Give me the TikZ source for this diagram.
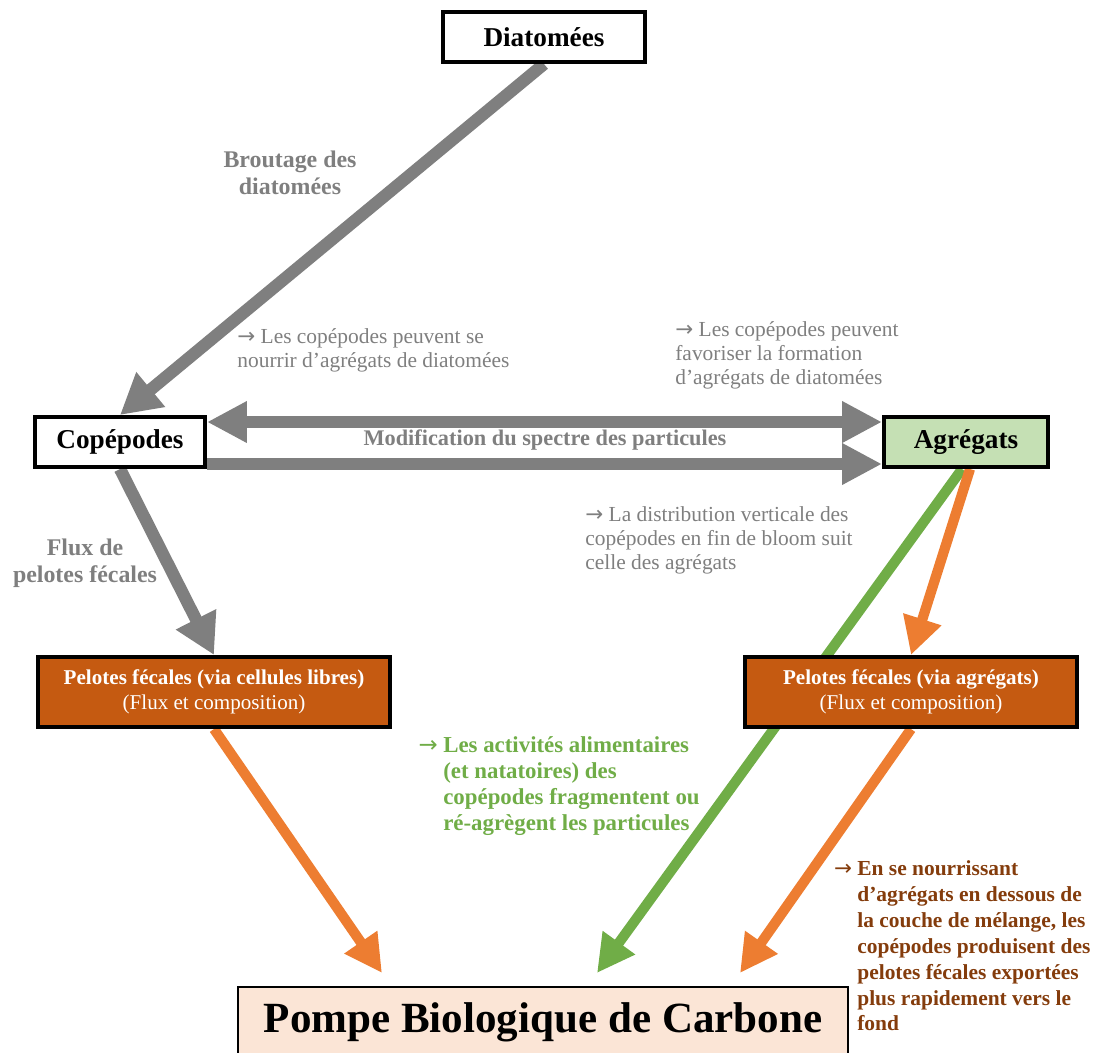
\documentclass[tikz,border=0pt]{standalone}
\usepackage{fontspec}
\setmainfont{Liberation Serif}
\newfontfamily\arrowfont{DejaVu Sans}
\usetikzlibrary{arrows.meta,positioning,backgrounds}
\definecolor{arrowgray}{RGB}{127,127,127}
\definecolor{agrgreen}{RGB}{197,224,180}
\definecolor{arrowgreen}{RGB}{112,173,71}
\definecolor{arroworange}{RGB}{237,125,49}
\definecolor{pelbrown}{RGB}{197,90,17}
\definecolor{pumpfill}{RGB}{251,229,214}
\definecolor{notebrown}{RGB}{132,60,12}
\newcommand{\notearrow}{{\arrowfont\mdseries →}}

\begin{document}
\begin{tikzpicture}[x=0.02cm,y=-0.02cm,box/.style={draw=black,line width=2.3pt,fill=white,minimum height=1cm,inner sep=2pt,font=\fontsize{15.5}{18}\selectfont\bfseries},pel/.style={box,fill=pelbrown,text=white,minimum height=1.4cm,align=center,font=\fontsize{12}{14.2}\selectfont},pump/.style={draw=black,line width=1.1pt,fill=pumpfill,minimum width=12.2cm,minimum height=1.4cm,font=\fontsize{24.5}{28}\selectfont\bfseries},lbl/.style={text=arrowgray,align=center,font=\fontsize{13.6}{15.3}\selectfont\bfseries},note/.style={text=arrowgray,align=left,anchor=west,inner sep=0pt,font=\fontsize{12.2}{13.6}\selectfont},bnote/.style={note,font=\fontsize{13}{14.9}\selectfont\bfseries},grarr/.style={draw=arrowgray,line width=7pt,-{Triangle[length=0.8cm,width=0.85cm]}},garr/.style={draw=arrowgreen,line width=5.8pt,-{Triangle[length=0.75cm,width=0.75cm]}},oarr/.style={draw=arroworange,line width=5.8pt,-{Triangle[length=0.75cm,width=0.75cm]}}]
\useasboundingbox(0,0) rectangle (1099,1052);
\node[box,minimum width=4.04cm](diat) at (544,37){Diatomées};
\node[box,minimum width=3.4cm](cope) at (120,442){Copépodes};
\node[box,fill=agrgreen,minimum width=3.28cm](agr) at (966,442){Agrégats};
\node[pel,minimum width=7.04cm](pelcell) at (214,692){\textbf{Pelotes fécales (via cellules libres)}\\(Flux et composition)};
\node[pel,minimum width=6.66cm](pelagr) at (911,692){\textbf{Pelotes fécales (via agrégats)}\\(Flux et composition)};
\node[pump](pump) at (543,1022){Pompe Biologique de Carbone};
\coordinate (tipleft) at (382,973);
\coordinate (tipgreen) at (597,973);
\coordinate (tipright) at (740,973);
\begin{pgfonlayer}{background}
\draw[grarr](diat.south)--(cope.north);
\draw[grarr,{Triangle[length=0.8cm,width=0.78cm]}-{Triangle[length=0.8cm,width=0.78cm]}]([yshift=0.4cm]cope.east)--([yshift=0.4cm]agr.west);
\draw[grarr,-{Triangle[length=0.8cm,width=0.78cm]}]([yshift=-0.44cm]cope.east)--([yshift=-0.44cm]agr.west);
\draw[grarr](cope.south)--(pelcell.north);
\draw[garr]([xshift=-0.08cm]agr.south)--(tipgreen);
\draw[oarr]([xshift=0.08cm]agr.south)--(pelagr.north);
\draw[oarr](pelcell.south)--(tipleft);
\draw[oarr](pelagr.south)--(tipright);
\end{pgfonlayer}
\node[lbl](brout) at (290,173){Broutage des\\diatomées};
\node[lbl](flux) at (85,563){Flux de\\pelotes fécales};
\node[lbl,font=\fontsize{12.7}{15}\selectfont\bfseries](modif) at (545,440){Modification du spectre des particules};
\node[note](nourrir) at (237,350){\notearrow{} Les copépodes peuvent se\\nourrir d’agrégats de diatomées};
\node[note](favor) at (675,355){\notearrow{} Les copépodes peuvent\\favoriser la formation\\d’agrégats de diatomées};
\node[note](distrib) at (585,540){\notearrow{} La distribution verticale des\\copépodes en fin de bloom suit\\celle des agrégats};
\node[bnote,text=arrowgreen](activ) at (443,786){\llap{\notearrow\ }Les activités alimentaires\\(et natatoires) des\\copépodes fragmentent ou\\ré-agrègent les particules};
\node[bnote,text=notebrown,font=\fontsize{12.2}{14.7}\selectfont\bfseries](export) at (857,946){\llap{\notearrow\ }En se nourrissant\\d’agrégats en dessous de\\la couche de mélange, les\\copépodes produisent des\\pelotes fécales exportées\\plus rapidement vers le\\fond};
\end{tikzpicture}
\end{document}
